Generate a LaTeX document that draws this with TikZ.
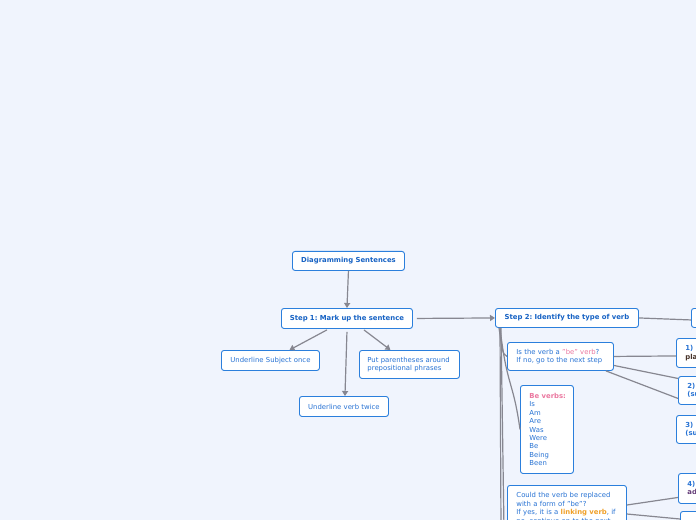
\documentclass[tikz,border=0pt]{standalone}
\usepackage{fontspec}
\setmainfont{DejaVu Sans}
\usetikzlibrary{arrows.meta,calc}
\frenchspacing
\definecolor{bgc}{RGB}{240,244,253}
\definecolor{bordc}{RGB}{43,127,220}
\definecolor{txtc}{RGB}{40,115,212}
\definecolor{ttlc}{RGB}{22,98,196}
\definecolor{pinkc}{RGB}{235,120,160}
\definecolor{orgc}{RGB}{240,160,40}
\definecolor{darkc}{RGB}{70,50,40}
\definecolor{purpc}{RGB}{100,60,120}
\definecolor{linec}{RGB}{135,135,145}
\tikzset{
  mbox/.style={draw=bordc, line width=0.9bp, rounded corners=2.5bp, fill=white,
    text=txtc, anchor=north west, inner ysep=0pt,
    font=\fontsize{6.9}{8.5}\selectfont},
  ctr/.style={align=center, inner xsep=2bp},
  lft/.style={align=left, inner xsep=9bp},
  ttl/.style={text=ttlc, font=\fontsize{6.9}{8.5}\selectfont\bfseries},
  conn/.style={draw=linec, line width=1.2bp},
  arr/.style={conn, -{Triangle[width=6bp,length=5bp]}},
}
\begin{document}
\begin{tikzpicture}[x=1bp,y=-1bp]
\useasboundingbox (0,0) rectangle (696,520);
\fill[bgc] (0,0) rectangle (696,520);
\clip (0,0) rectangle (696,520);

% nodes
\node[mbox,ctr,ttl,text width=108bp,minimum height=19bp] (title) at (292,251) {Diagramming Sentences};
\node[mbox,ctr,ttl,text width=127bp,minimum height=20bp] (step1) at (281,308) {Step 1: Mark up the sentence};
\node[mbox,ctr,text width=94bp,minimum height=20bp] (subj) at (221,350) {Underline Subject once};
\node[mbox,lft,inner xsep=8bp,text width=84bp,minimum height=28bp] (paren) at (359,350) {Put parentheses around\\prepositional phrases};
\node[mbox,ctr,text width=85bp,minimum height=20bp] (verb) at (299,396) {Underline verb twice};
\node[mbox,ctr,ttl,text width=139bp,minimum height=19bp] (step2) at (495,308) {Step 2: Identify the type of verb};
\node[mbox,ctr,text width=56bp,minimum height=19bp] (rnode) at (691,308) {};
\node[mbox,lft,text width=88bp,minimum height=28bp] (isbe) at (507,342) {Is the verb a \textcolor{pinkc}{"be" verb}?\\If no, go to the next step};
\node[mbox,lft,text width=35bp,minimum height=88bp] (bev) at (520,385) {\makebox[35bp][l]{\textcolor{pinkc}{\bfseries Be verbs:}}\\Is\\Am\\Are\\Was\\Were\\Be\\Being\\Been};
\node[mbox,lft,text width=101bp,minimum height=46bp] (could) at (507,485) {Could the verb be replaced\\with a form of "be"?\\If yes, it is a \textcolor{orgc}{\bfseries linking verb}, if\\no, continue on to the next};
\node[mbox,lft,text width=40bp,minimum height=29bp] (n1) at (676,338) {\bfseries 1)\\\textcolor{darkc}{\bfseries pla}};
\node[mbox,lft,text width=40bp,minimum height=28bp] (n2) at (678,376) {\bfseries 2)\\\bfseries (su};
\node[mbox,lft,text width=40bp,minimum height=28bp] (n3) at (676,415) {\bfseries 3)\\\bfseries (su};
\node[mbox,lft,text width=40bp,minimum height=30bp] (n4) at (678,473) {\bfseries 4)\\\textcolor{purpc}{\bfseries adj}};
\node[mbox,lft,text width=40bp,minimum height=30bp] (n5) at (680,511) {\bfseries 5)\\ };
\coordinate (low1) at (501,530);
\coordinate (low2) at (504,530);

% connectors
\draw[arr] (title.south) -- (step1.north);
\draw[arr] ($(step1.south)+(-20,1)$) -- ($(subj.north)+(19,0)$);
\draw[arr] ($(step1.south)+(0,3)$) -- ($(verb.north)+(1,0)$);
\draw[arr] ($(step1.south)+(17,1)$) -- ($(paren.north)+(-19,0)$);
\draw[arr] ($(step1.east)+(4,0)$) -- (step2.west);
\draw[conn] (step2.east) -- ($(rnode.west)+(0,2)$);
\draw[conn] ($(step2.south west)+(4,0)$) .. controls ($(step2.south west)+(7,20)$) and ($(isbe.west)+(-5,-2)$) .. (isbe.west);
\draw[conn] ($(step2.south west)+(5,0)$) .. controls ($(step2.south west)+(12,60)$) and ($(bev.west)+(-7,-50)$) .. (bev.west);
\draw[conn] ($(step2.south west)+(5,0)$) -- (low1);
\draw[conn] ($(step2.south west)+(6,0)$) -- (low2);
\draw[conn] (isbe.east) -- ($(n1.west)+(0,3)$);
\draw[conn] ($(isbe.east)+(0,9)$) -- ($(n2.west)+(0,-12)$);
\draw[conn] ($(isbe.south east)+(-8,0)$) -- ($(n2.west)+(0,8)$);
\draw[conn] ($(could.north east)+(0,20)$) -- ($(n4.west)+(0,9)$);
\draw[conn] ($(could.north east)+(0,29)$) -- ($(n5.north west)+(0,8)$);
\end{tikzpicture}
\end{document}
